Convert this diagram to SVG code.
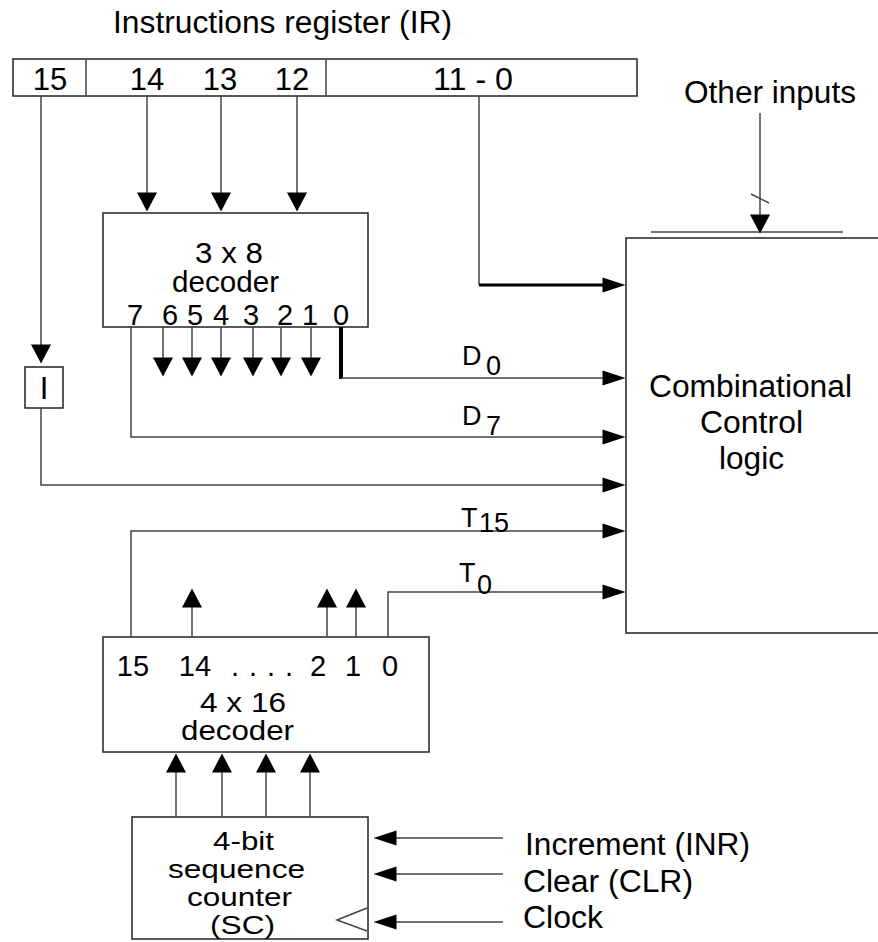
<svg xmlns="http://www.w3.org/2000/svg" width="878" height="942" viewBox="0 0 878 942">
<style>
text{font-family:"Liberation Sans",Arial,sans-serif;fill:#000}
.t{font-size:29px}
.m{font-size:27.5px}
.k{font-size:26px}
.b{font-size:31px}
.s{font-size:27px}
.c{text-anchor:middle}
.box{fill:#fff;stroke:#222;stroke-width:1.5}
.ln{fill:none;stroke:#444;stroke-width:1.5}
.thk{fill:none;stroke:#000;stroke-width:3}
</style>
<defs>
<marker id="ah" markerUnits="userSpaceOnUse" markerWidth="20" markerHeight="20" refX="0.5" refY="10" orient="auto" overflow="visible">
<path d="M0,0 L19,10 L0,20 z" fill="#000"/>
</marker>
<marker id="ahs" markerUnits="userSpaceOnUse" markerWidth="24" markerHeight="15" refX="0.5" refY="7.5" orient="auto" overflow="visible">
<path d="M0,0 L23,7.5 L0,15 z" fill="#000"/>
</marker>
</defs>

<text class="b" x="113" y="33" textLength="339" lengthAdjust="spacingAndGlyphs">Instructions register (IR)</text>

<g id="ir">
<rect class="box" x="13" y="59" width="624" height="37"/>
<line class="ln" x1="86" y1="59" x2="86" y2="96"/>
<line class="ln" x1="326" y1="59" x2="326" y2="96"/>
<text class="b c" x="50" y="90">15</text>
<text class="b c" x="147" y="90">14</text>
<text class="b c" x="220" y="90">13</text>
<text class="b c" x="292" y="90">12</text>
<text class="b" x="433" y="90" textLength="80" lengthAdjust="spacingAndGlyphs">11 - 0</text>
</g>

<g id="dec38">
<rect class="box" x="103" y="213" width="265" height="114"/>
<text class="t" x="195" y="263" textLength="68" lengthAdjust="spacingAndGlyphs">3 x 8</text>
<text class="t" x="172" y="292" textLength="107" lengthAdjust="spacingAndGlyphs">decoder</text>
<text class="t c" x="135" y="325">7</text>
<text class="t c" x="170" y="325">6</text>
<text class="t c" x="195" y="325">5</text>
<text class="t c" x="221" y="325">4</text>
<text class="t c" x="251" y="325">3</text>
<text class="t c" x="285" y="325">2</text>
<text class="t c" x="310" y="325">1</text>
<text class="t c" x="341" y="325">0</text>
</g>

<g id="ibox">
<rect class="box" x="25" y="367" width="38" height="41"/>
<text class="b c" x="44" y="399">I</text>
</g>

<g id="ccl">
<path class="box" d="M885,238 H626 V633 H885"/>
<text class="b" x="649" y="397" textLength="203" lengthAdjust="spacingAndGlyphs">Combinational</text>
<text class="b" x="700" y="433" textLength="103" lengthAdjust="spacingAndGlyphs">Control</text>
<text class="b" x="719" y="469" textLength="65" lengthAdjust="spacingAndGlyphs">logic</text>
</g>

<g id="other">
<text class="b" x="684" y="103" textLength="172" lengthAdjust="spacingAndGlyphs">Other inputs</text>
<line class="ln" x1="651" y1="232" x2="843" y2="232"/>
</g>

<g id="dec416">
<rect class="box" x="103" y="637" width="326" height="115"/>
<text class="t c" x="133" y="676">15</text>
<text class="t c" x="195" y="676">14</text>
<text class="t" x="231" y="676" textLength="62" lengthAdjust="spacing">. . . .</text>
<text class="t c" x="318" y="676">2</text>
<text class="t c" x="353" y="676">1</text>
<text class="t c" x="390" y="676">0</text>
<text class="m" x="200" y="712" textLength="86" lengthAdjust="spacingAndGlyphs">4 x 16</text>
<text class="m" x="181" y="740" textLength="113" lengthAdjust="spacingAndGlyphs">decoder</text>
</g>

<g id="sc">
<rect class="box" x="132" y="817" width="236" height="122"/>
<text class="k" x="213" y="850" textLength="61" lengthAdjust="spacingAndGlyphs">4-bit</text>
<text class="k" x="168" y="878" textLength="137" lengthAdjust="spacingAndGlyphs">sequence</text>
<text class="k" x="187" y="906" textLength="105" lengthAdjust="spacingAndGlyphs">counter</text>
<text class="k" x="210" y="934" textLength="65" lengthAdjust="spacingAndGlyphs">(SC)</text>
<polyline class="ln" points="367,908 337,920 367,931"/>
</g>

<g id="inputs">
<text class="b" x="525" y="855" textLength="225" lengthAdjust="spacingAndGlyphs">Increment (INR)</text>
<text class="b" x="523" y="892" textLength="170" lengthAdjust="spacingAndGlyphs">Clear (CLR)</text>
<text class="b" x="523" y="928" textLength="80" lengthAdjust="spacingAndGlyphs">Clock</text>
</g>

<g id="connectors">
<line class="ln" x1="41" y1="96" x2="41" y2="345" marker-end="url(#ah)"/>
<line class="ln" x1="147" y1="96" x2="147" y2="193" marker-end="url(#ah)"/>
<line class="ln" x1="221" y1="96" x2="221" y2="193" marker-end="url(#ah)"/>
<line class="ln" x1="297" y1="96" x2="297" y2="193" marker-end="url(#ah)"/>
<path class="ln" d="M479,96 V285"/>
<line class="thk" x1="479" y1="285" x2="603" y2="285" marker-end="url(#ahs)"/>
<line class="ln" x1="760" y1="113" x2="760" y2="215" marker-end="url(#ah)"/>
<line class="ln" x1="751" y1="194" x2="769" y2="203"/>

<path class="ln" d="M131,327 V437 H603" marker-end="url(#ahs)"/>
<line class="ln" x1="163" y1="327" x2="163" y2="358" marker-end="url(#ah)"/>
<line class="ln" x1="192" y1="327" x2="192" y2="358" marker-end="url(#ah)"/>
<line class="ln" x1="221" y1="327" x2="221" y2="358" marker-end="url(#ah)"/>
<line class="ln" x1="253" y1="327" x2="253" y2="358" marker-end="url(#ah)"/>
<line class="ln" x1="281" y1="327" x2="281" y2="358" marker-end="url(#ah)"/>
<line class="ln" x1="311" y1="327" x2="311" y2="358" marker-end="url(#ah)"/>
<line x1="341" y1="327" x2="341" y2="379" stroke="#000" stroke-width="4"/>
<path class="ln" d="M341,378 H603" marker-end="url(#ahs)"/>
<text class="s" x="462" y="365">D</text><text class="s" x="486" y="375">0</text>
<text class="s" x="462" y="425">D</text><text class="s" x="486" y="435">7</text>

<path class="ln" d="M41,408 V485 H603" marker-end="url(#ahs)"/>
<path class="ln" d="M131,637 V531 H603" marker-end="url(#ahs)"/>
<text class="s" x="461" y="527">T</text><text class="s" x="479" y="532">15</text>
<path class="ln" d="M388,637 V592 H603" marker-end="url(#ahs)"/>
<text class="s" x="459" y="582">T</text><text class="s" x="477" y="594">0</text>

<line class="ln" x1="192" y1="637" x2="192" y2="607" marker-end="url(#ah)"/>
<line class="ln" x1="327" y1="637" x2="327" y2="607" marker-end="url(#ah)"/>
<line class="ln" x1="356" y1="637" x2="356" y2="607" marker-end="url(#ah)"/>

<line class="ln" x1="176" y1="817" x2="176" y2="772" marker-end="url(#ah)"/>
<line class="ln" x1="222" y1="817" x2="222" y2="772" marker-end="url(#ah)"/>
<line class="ln" x1="266" y1="817" x2="266" y2="772" marker-end="url(#ah)"/>
<line class="ln" x1="310" y1="817" x2="310" y2="772" marker-end="url(#ah)"/>

<line class="ln" x1="503" y1="838" x2="396" y2="838" marker-end="url(#ahs)"/>
<line class="ln" x1="503" y1="874" x2="396" y2="874" marker-end="url(#ahs)"/>
<line class="ln" x1="503" y1="922" x2="396" y2="922" marker-end="url(#ahs)"/>
</g>
</svg>
